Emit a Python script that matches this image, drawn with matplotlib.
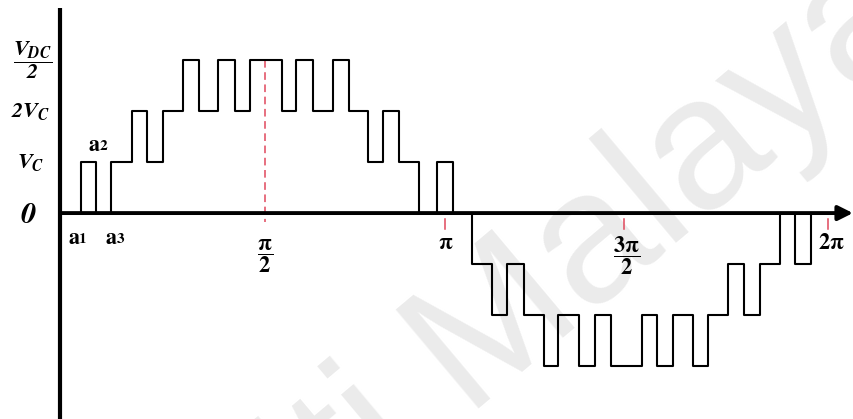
import numpy as np
import matplotlib
matplotlib.use("Agg")
import matplotlib.pyplot as plt

#--- Fonts: bold Times-style serif (STIX ships with matplotlib) ---#
# rm is bold italic so digits in the level labels slant too; pi labels use \mathbf
plt.rcParams['mathtext.fontset'] = 'custom'
plt.rcParams['mathtext.rm'] = 'STIXGeneral:italic:bold'
plt.rcParams['mathtext.bf'] = 'STIXGeneral:bold'
plt.rcParams['mathtext.it'] = 'STIXGeneral:italic:bold'
plt.rcParams['font.family'] = ['STIXGeneral', 'DejaVu Serif']

#--- Waveform data (angle in degrees, output level in units of Vc) ---#
# switching angles of the positive half cycle and the level after each edge
pos_angles = [9.7, 17.0, 23.7, 33.7, 40.8, 48.0, 57.4, 65.1, 74.0, 82.0, 88.8,
              103.7, 110.3, 118.4, 127.8, 135.1, 144.1, 151.2, 158.6, 168.0,
              176.4, 183.6]
pos_levels = [1, 0, 1, 2, 1, 2, 3, 2, 3, 2, 3,
              2, 3, 2, 3, 2, 1, 2, 1, 0,
              1, 0]

# negative half cycle
neg_angles = [192.8, 201.8, 209.1, 216.9, 226.3, 233.0, 242.7, 250.1, 257.5,
              272.0, 279.3, 286.7, 296.1, 303.1, 312.5, 319.9, 327.3, 336.6,
              343.6, 351.0]
neg_levels = [-1, -2, -1, -2, -3, -2, -3, -2, -3,
              -2, -3, -2, -3, -2, -1, -2, -1, 0,
              -1, 0]

# angle marks on the time axis
mark_pos = [95.8, 180.0, 263.7, 359.1]
mark_labels = [r'$\dfrac{\mathbf{\pi}}{\mathbf{2}}$', r'$\mathbf{\pi}$',
               r'$\dfrac{\mathbf{3\pi}}{\mathbf{2}}$', r'$\mathbf{2\pi}$']

# level labels on the vertical axis
level_vals = [3, 2, 1, 0]
level_labels = [r'$\dfrac{V_{DC}}{2}$', r'$2V_C$', r'$V_C$', r'$0$']

# switching angle names
angle_names = ['1', '2', '3']
angle_pos = [(8.4, -0.49), (17.8, 1.32), (25.7, -0.49)]

x_end = 370.7

#--- Figure ---#
fig = plt.figure(figsize=(8.54, 4.19), dpi=100)
ax = fig.add_axes([0, 0, 1, 1])
ax.set_xlim(-28.05, 371.2)
ax.set_ylim(-4.04, 4.18)
ax.axis('off')

# faint watermark behind the drawing
ax.text(1.09, 0.93, 'Universiti Malaya', transform=ax.transAxes,
        family='Liberation Sans', fontsize=135, color='#ebebeb',
        rotation=40, rotation_mode='anchor', ha='right', va='baseline', zorder=0)

# stepped output voltage
angles = np.concatenate([[0.0], pos_angles, neg_angles, [x_end - 5]])
levels = np.concatenate([[0], pos_levels, neg_levels, [0]])
ax.step(angles, levels, where='post', color='k', lw=1.5, zorder=3)

# axes drawn by hand, x axis with an arrow head
ax.plot([0, 0], [4.02, -4.1], color='k', lw=3.0, solid_capstyle='butt', zorder=4)
ax.annotate('', xy=(x_end, 0), xytext=(0, 0),
            arrowprops=dict(arrowstyle='-|>', lw=2.8, color='k',
                            mutation_scale=22, shrinkA=0, shrinkB=0), zorder=4)

# red dashed angle marks
red = '#e0485c'
ax.plot([mark_pos[0]] * 2, [3, -0.18], color=red, lw=1.1, ls=(0, (5, 3)), zorder=2)
for xm in mark_pos[1:]:
    ax.plot([xm, xm], [-0.12, -0.32], color=red, lw=1.1, zorder=2)

# angle labels
label_y = [-0.84, -0.61, -0.84, -0.61]
label_dx = [0, 0.5, 1.4, 1.4]
for xm, lab, yl, dx in zip(mark_pos, mark_labels, label_y, label_dx):
    ax.text(xm + dx, yl, lab, fontsize=16, ha='center', va='center')

# level labels
level_x = [-12.6, -14.0, -13.6, -14.7]
level_size = [16, 16, 16, 22]
level_dy = [0, 0, 0, -0.06]
for lv, lab, xl, fs, dy in zip(level_vals, level_labels, level_x, level_size, level_dy):
    ax.text(xl, lv + dy, lab, fontsize=fs, ha='center', va='center')

# a1, a2, a3
for name, (xa, ya) in zip(angle_names, angle_pos):
    ax.text(xa + 0.5, ya, 'a', fontsize=16, fontweight='bold', ha='right', va='center')
    ax.text(xa + 0.7, ya - 0.02, name, fontsize=11, fontweight='bold', ha='left', va='center')

fig.savefig('out.png', dpi=100)
